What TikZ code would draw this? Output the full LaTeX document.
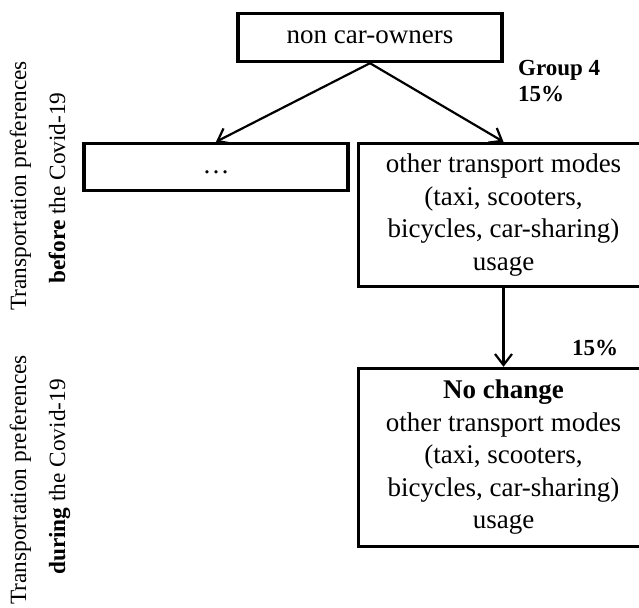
\documentclass[tikz,border=0pt]{standalone}
\usepackage{fontspec}
\setmainfont{Liberation Serif}
\usetikzlibrary{arrows.meta}
\tikzset{
  box/.style={draw, line width=3.4pt, inner sep=0pt, align=center,
    font=\fontsize{27}{32.5}\selectfont},
  arr/.style={line width=2.2pt, -{Straight Barb[length=11pt,width=17pt]}},
  sidelabel/.style={rotate=90, anchor=base, inner sep=0pt,
    font=\fontsize{23.3}{28}\selectfont},
  pct/.style={inner sep=0pt, align=left, font=\fontsize{23}{26}\selectfont\bfseries}
}
\begin{document}
\begin{tikzpicture}[x=1pt,y=-1pt]
\useasboundingbox (0,0) rectangle (639,607);
\node[box, minimum width=264pt, minimum height=48pt] (top) at (370,37.5) {non car-owners};
\node[box, minimum width=264pt, minimum height=47pt] (left) at (216,167) {\strut…};
\node[box, minimum width=290pt, minimum height=143pt] (right) at (503.5,215)
  {other transport modes\\(taxi, scooters,\\bicycles, car-sharing)\\usage};
\node[box, minimum width=290pt, minimum height=178pt] (bottom) at (503.5,457.5)
  {\textbf{No change}\\other transport modes\\(taxi, scooters,\\bicycles, car-sharing)\\usage};
\draw[arr] (top.south) -- (left.north);
\draw[arr] (top.south) -- (right.north);
\draw[arr] (right.south) -- (bottom.north);
\node[pct, anchor=base west] (g4) at (518,102) {Group 4\\ 15\%};
\node[pct, anchor=base west] (p2) at (572,355) {15\%};
\node[sidelabel] (l1a) at (26,186) {Transportation preferences};
\node[sidelabel] (l1b) at (65,188) {\textbf{before} the Covid-19};
\node[sidelabel] (l2a) at (26,480) {Transportation preferences};
\node[sidelabel] (l2b) at (65,477) {\textbf{during} the Covid-19};
\end{tikzpicture}
\end{document}
